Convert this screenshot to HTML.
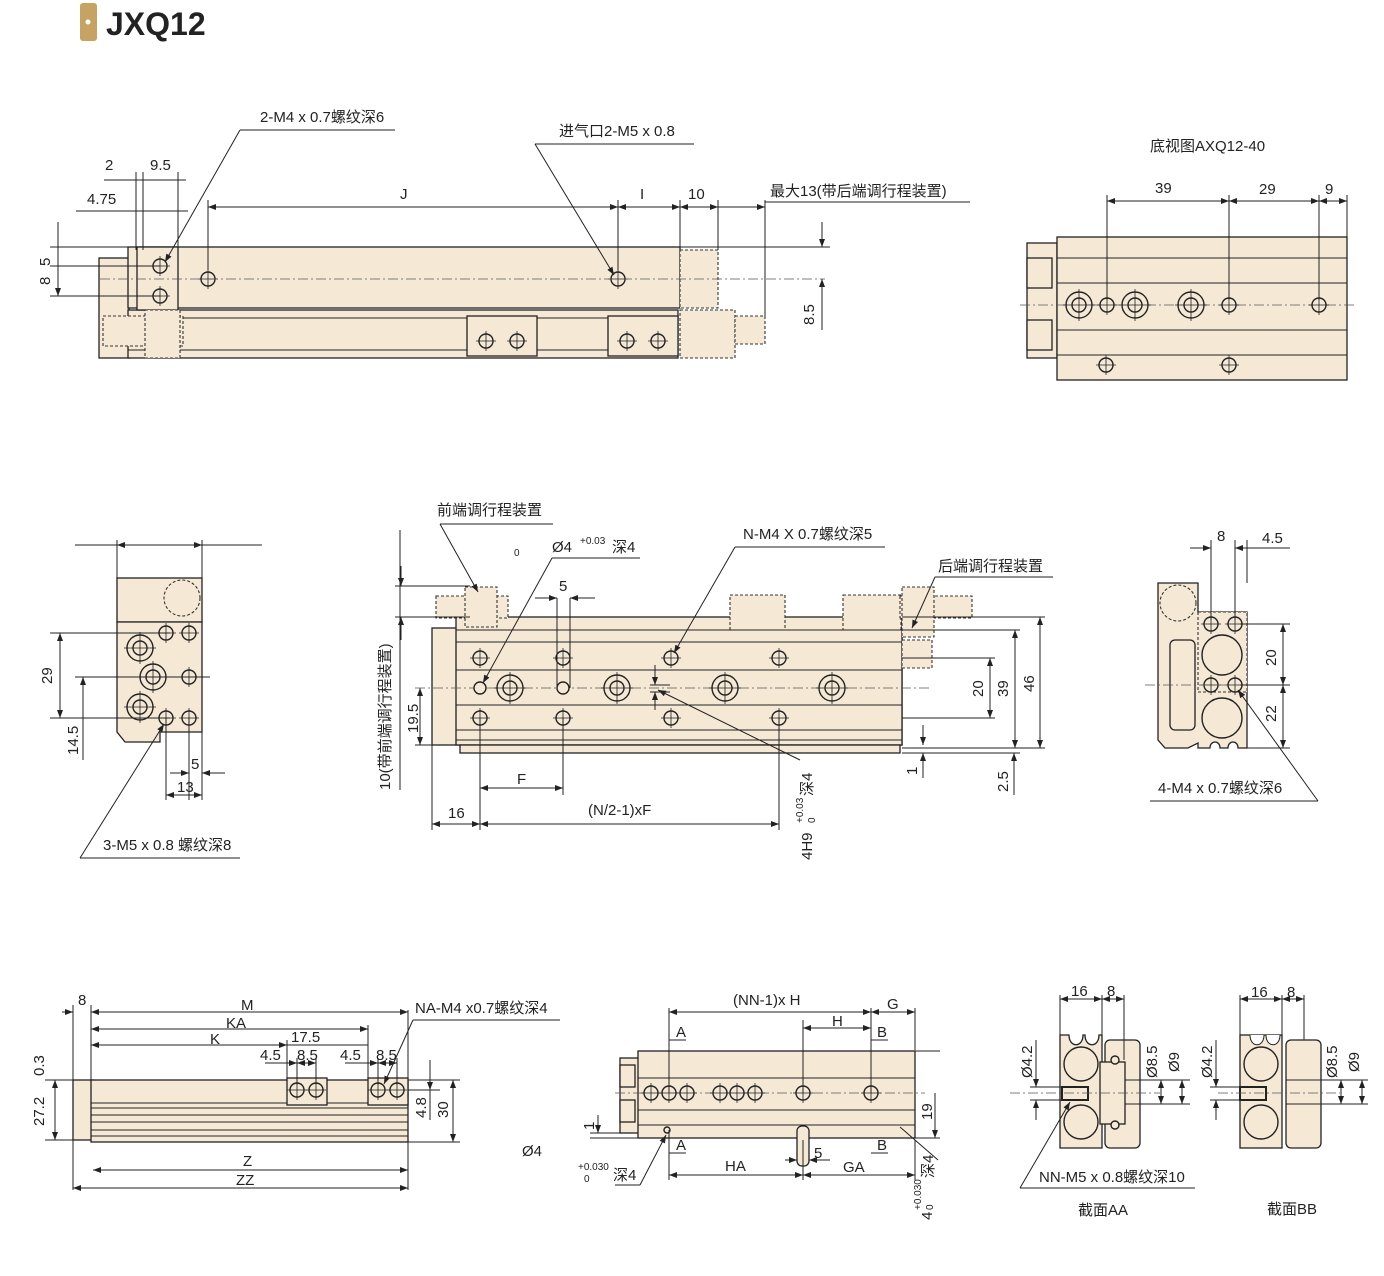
<!DOCTYPE html>
<html><head><meta charset="utf-8"><style>
html,body{margin:0;padding:0;background:#fff;width:1384px;height:1276px;overflow:hidden}
svg{display:block}
text{font-family:"Liberation Sans","Noto Sans CJK SC",sans-serif;font-size:15px;fill:#222}
.b{fill:#f5e9d6;stroke:#222;stroke-width:1.3}
.d{fill:#f5e9d6;stroke:#333;stroke-width:1.1;stroke-dasharray:3 2}
.l{stroke:#222;stroke-width:1;fill:none}
.c{stroke:#555;stroke-width:.8;fill:none;stroke-dasharray:10 3 2 3}
.h{fill:#f5e9d6;stroke:#222;stroke-width:1.4}
</style></head><body>
<svg width="1384" height="1276" viewBox="0 0 1384 1276" xmlns="http://www.w3.org/2000/svg">
<defs>
<marker id="a" markerWidth="8" markerHeight="6" refX="8" refY="3" orient="auto-start-reverse" markerUnits="userSpaceOnUse"><path d="M0,0 L8,3 L0,6z" fill="#222"/></marker>
<g id="hole"><circle r="7" class="h"/><path d="M-10,0H10M0,-10V10" stroke="#222" stroke-width=".8"/></g>
<g id="big"><circle r="13" class="h"/><circle r="7" class="h"/><path d="M-16,0H16M0,-16V16" stroke="#222" stroke-width=".8"/></g>
</defs>

<!-- title -->
<rect x="80" y="3" width="17" height="38" rx="3" fill="#c6a363"/>
<circle cx="88" cy="22" r="2.5" fill="#fff"/>
<text x="106" y="35" style="font-size:32px;font-weight:bold;fill:#222">JXQ12</text>

<!-- ===== TOP SIDE VIEW ===== -->
<rect x="99" y="258" width="30" height="100" class="b"/>
<rect x="128" y="247" width="552" height="61" class="b"/>
<rect x="128" y="310" width="550" height="48" class="b"/>
<line x1="128" y1="318" x2="678" y2="318" class="l"/>
<line x1="128" y1="350" x2="678" y2="350" class="l"/>
<rect x="137" y="247" width="41" height="63" class="b"/>
<rect x="103" y="316" width="80" height="30" class="d"/>
<rect x="145" y="310" width="35" height="48" class="d"/>
<rect x="680" y="250" width="38" height="58" class="d"/>
<rect x="680" y="310" width="55" height="48" class="d"/>
<rect x="735" y="316" width="30" height="28" class="d"/>
<rect x="467" y="316" width="70" height="40" class="b"/>
<rect x="608" y="316" width="70" height="40" class="b"/>
<use href="#hole" x="486" y="341"/><use href="#hole" x="517" y="341"/>
<use href="#hole" x="627" y="341"/><use href="#hole" x="658" y="341"/>
<use href="#hole" x="160" y="266"/><use href="#hole" x="160" y="296"/>
<use href="#hole" x="208" y="279"/><use href="#hole" x="618" y="279"/>
<line x1="100" y1="279" x2="825" y2="279" class="c"/>
<g class="l">
<line x1="76" y1="211" x2="188" y2="211"/>
<line x1="104" y1="180" x2="186" y2="180"/>
<line x1="136" y1="172" x2="136" y2="250"/><line x1="143" y1="172" x2="143" y2="250"/><line x1="178" y1="172" x2="178" y2="250"/>
<line x1="208" y1="200" x2="208" y2="270" /><line x1="618" y1="200" x2="618" y2="270"/>
<line x1="680" y1="200" x2="680" y2="250"/><line x1="718" y1="200" x2="718" y2="250"/><line x1="765" y1="200" x2="765" y2="316"/>
<line x1="208" y1="207" x2="618" y2="207" marker-start="url(#a)" marker-end="url(#a)"/>
<line x1="618" y1="207" x2="680" y2="207" marker-start="url(#a)" marker-end="url(#a)"/>
<line x1="680" y1="207" x2="718" y2="207" marker-start="url(#a)" marker-end="url(#a)"/>
<line x1="718" y1="207" x2="765" y2="207" marker-end="url(#a)"/>
<line x1="765" y1="202" x2="970" y2="202"/>
<line x1="50" y1="247" x2="128" y2="247"/><line x1="50" y1="266" x2="160" y2="266"/><line x1="50" y1="296" x2="160" y2="296"/>
<line x1="58" y1="222" x2="58" y2="296" marker-end="url(#a)"/>
<line x1="680" y1="247" x2="830" y2="247"/>
<line x1="822" y1="222" x2="822" y2="247" marker-end="url(#a)"/>
<line x1="822" y1="279" x2="822" y2="330" marker-start="url(#a)"/>
<line x1="240" y1="130" x2="395" y2="130"/><line x1="240" y1="130" x2="165" y2="262" marker-end="url(#a)"/>
<line x1="535" y1="144" x2="694" y2="144"/><line x1="535" y1="144" x2="614" y2="275" marker-end="url(#a)"/>
</g>
<text x="260" y="122">2-M4 x 0.7螺纹深6</text>
<text x="559" y="136">进气口2-M5 x 0.8</text>
<text x="105" y="170">2</text><text x="150" y="170">9.5</text><text x="87" y="204">4.75</text>
<text x="400" y="199">J</text><text x="640" y="199">I</text><text x="688" y="199">10</text>
<text x="770" y="196">最大13(带后端调行程装置)</text>
<text transform="translate(50,285) rotate(-90)">8</text><text transform="translate(50,266) rotate(-90)">5</text>
<text transform="translate(814,325) rotate(-90)">8.5</text>

<!-- ===== BOTTOM VIEW ===== -->
<text x="1150" y="151">底视图AXQ12-40</text>
<rect x="1027" y="243" width="30" height="115" class="b"/>
<rect x="1057" y="237" width="290" height="143" class="b"/>
<rect x="1027" y="258" width="25" height="30" class="b"/><rect x="1027" y="320" width="25" height="30" class="b"/>
<line x1="1057" y1="258" x2="1347" y2="258" class="l"/><line x1="1057" y1="355" x2="1347" y2="355" class="l"/>
<line x1="1057" y1="283" x2="1347" y2="283" class="l"/><line x1="1057" y1="330" x2="1347" y2="330" class="l"/>
<line x1="1020" y1="305" x2="1355" y2="305" class="c"/>
<use href="#big" x="1079" y="305"/><use href="#hole" x="1107" y="305"/><use href="#big" x="1135" y="305"/>
<use href="#big" x="1191" y="305"/><use href="#hole" x="1229" y="305"/><use href="#hole" x="1319" y="305"/>
<use href="#hole" x="1106" y="365"/><use href="#hole" x="1229" y="365"/>
<g class="l">
<line x1="1107" y1="195" x2="1107" y2="300"/><line x1="1229" y1="195" x2="1229" y2="300"/><line x1="1319" y1="195" x2="1319" y2="300"/><line x1="1347" y1="195" x2="1347" y2="240"/>
<line x1="1107" y1="201" x2="1229" y2="201" marker-start="url(#a)" marker-end="url(#a)"/>
<line x1="1229" y1="201" x2="1319" y2="201" marker-start="url(#a)" marker-end="url(#a)"/>
<line x1="1319" y1="201" x2="1347" y2="201" marker-start="url(#a)" marker-end="url(#a)"/>
</g>
<text x="1155" y="193">39</text><text x="1259" y="194">29</text><text x="1325" y="194">9</text>

<!-- ===== LEFT END VIEW ===== -->
<rect x="117" y="578" width="85" height="44" class="b"/>
<path d="M117,622 H202 V732 H160 V742 H125 L117,732Z" class="b"/>
<circle cx="182" cy="598" r="18" class="d"/>
<use href="#big" x="140" y="648"/><use href="#big" x="140" y="707"/><use href="#big" x="153" y="677"/>
<use href="#hole" x="166" y="633"/><use href="#hole" x="189" y="633"/><use href="#hole" x="189" y="677"/>
<use href="#hole" x="166" y="718"/><use href="#hole" x="189" y="718"/>
<g class="l">
<line x1="75" y1="545" x2="262" y2="545"/>
<line x1="117" y1="545" x2="202" y2="545" marker-start="url(#a)" marker-end="url(#a)"/>
<line x1="117" y1="540" x2="117" y2="578"/><line x1="202" y1="540" x2="202" y2="578"/>
<line x1="50" y1="633" x2="170" y2="633"/><line x1="50" y1="718" x2="170" y2="718"/><line x1="75" y1="677" x2="210" y2="677"/>
<line x1="60" y1="633" x2="60" y2="718" marker-start="url(#a)" marker-end="url(#a)"/>
<line x1="83" y1="677" x2="83" y2="760" marker-start="url(#a)"/>
<line x1="166" y1="718" x2="166" y2="800"/><line x1="189" y1="718" x2="189" y2="800"/><line x1="202" y1="718" x2="202" y2="800"/>
<line x1="166" y1="795" x2="202" y2="795" marker-start="url(#a)" marker-end="url(#a)"/>
<line x1="170" y1="773" x2="189" y2="773" marker-end="url(#a)"/><line x1="202" y1="773" x2="225" y2="773" marker-start="url(#a)"/>
<line x1="80" y1="858" x2="240" y2="858"/><line x1="80" y1="858" x2="164" y2="724" marker-end="url(#a)"/>
</g>
<text transform="translate(52,684) rotate(-90)">29</text><text transform="translate(78,755) rotate(-90)">14.5</text>
<text x="191" y="769">5</text><text x="177" y="792">13</text>
<text x="103" y="850">3-M5 x 0.8 螺纹深8</text>

<!-- ===== MAIN TOP VIEW ===== -->
<rect x="432" y="628" width="470" height="117" class="b"/>
<rect x="456" y="617" width="446" height="128" class="b"/>
<rect x="730" y="595" width="55" height="35" class="d"/><rect x="843" y="595" width="58" height="35" class="d"/>
<rect x="436" y="596" width="72" height="22" class="d"/><rect x="465" y="587" width="32" height="40" class="d"/>
<rect x="900" y="596" width="72" height="22" class="d"/><rect x="902" y="587" width="32" height="50" class="d"/>
<rect x="902" y="640" width="30" height="28" class="d"/>
<rect x="460" y="745" width="440" height="8" class="b"/>
<g class="l">
<line x1="456" y1="630" x2="902" y2="630"/><line x1="456" y1="642" x2="902" y2="642"/>
<line x1="456" y1="670" x2="902" y2="670"/><line x1="456" y1="705" x2="902" y2="705"/>
<line x1="456" y1="730" x2="902" y2="730"/><line x1="456" y1="740" x2="902" y2="740"/>
</g>
<line x1="415" y1="688" x2="930" y2="688" class="c"/>
<use href="#hole" x="480" y="658"/><use href="#hole" x="563" y="658"/><use href="#hole" x="671" y="658"/><use href="#hole" x="779" y="658"/>
<use href="#hole" x="480" y="718"/><use href="#hole" x="563" y="718"/><use href="#hole" x="671" y="718"/><use href="#hole" x="779" y="718"/>
<circle cx="480" cy="688" r="6" class="h"/><circle cx="563" cy="688" r="6" class="h"/>
<use href="#big" x="510" y="688"/><use href="#big" x="617" y="688"/><use href="#big" x="725" y="688"/><use href="#big" x="832" y="688"/>
<g class="l">
<line x1="395" y1="586" x2="470" y2="586"/><line x1="395" y1="617" x2="470" y2="617"/>
<line x1="401" y1="566" x2="401" y2="586" marker-end="url(#a)"/><line x1="401" y1="617" x2="401" y2="640" marker-start="url(#a)"/>
<line x1="400" y1="530" x2="400" y2="790"/>
<line x1="420" y1="688" x2="420" y2="745" marker-start="url(#a)" marker-end="url(#a)"/>
<line x1="415" y1="745" x2="460" y2="745"/>
<line x1="557" y1="598" x2="557" y2="688"/><line x1="570" y1="598" x2="570" y2="688"/>
<line x1="535" y1="598" x2="557" y2="598" marker-end="url(#a)"/><line x1="570" y1="598" x2="595" y2="598" marker-start="url(#a)"/>
<line x1="480" y1="718" x2="480" y2="830"/><line x1="563" y1="718" x2="563" y2="795"/><line x1="779" y1="718" x2="779" y2="830"/><line x1="432" y1="745" x2="432" y2="830"/>
<line x1="480" y1="788" x2="563" y2="788" marker-start="url(#a)" marker-end="url(#a)"/>
<line x1="432" y1="824" x2="480" y2="824" marker-start="url(#a)" marker-end="url(#a)"/>
<line x1="480" y1="824" x2="779" y2="824" marker-start="url(#a)" marker-end="url(#a)"/>
<line x1="655" y1="665" x2="655" y2="685" marker-end="url(#a)"/><line x1="655" y1="710" x2="655" y2="692" marker-end="url(#a)"/>
<line x1="650" y1="685" x2="670" y2="685"/><line x1="650" y1="692" x2="670" y2="692"/>
<line x1="800" y1="760" x2="658" y2="690" marker-end="url(#a)"/>
<line x1="440" y1="524" x2="553" y2="524"/><line x1="440" y1="524" x2="478" y2="592" marker-end="url(#a)"/>
<line x1="552" y1="558" x2="640" y2="558"/><line x1="552" y1="558" x2="483" y2="683" marker-end="url(#a)"/>
<line x1="735" y1="547" x2="885" y2="547"/><line x1="735" y1="547" x2="674" y2="653" marker-end="url(#a)"/>
<line x1="935" y1="577" x2="1053" y2="577"/><line x1="935" y1="577" x2="912" y2="628" marker-end="url(#a)"/>
<line x1="902" y1="617" x2="1045" y2="617"/><line x1="902" y1="630" x2="1020" y2="630"/><line x1="902" y1="658" x2="995" y2="658"/><line x1="902" y1="718" x2="995" y2="718"/>
<line x1="902" y1="748" x2="1045" y2="748"/><line x1="902" y1="753" x2="1020" y2="753"/>
<line x1="990" y1="658" x2="990" y2="718" marker-start="url(#a)" marker-end="url(#a)"/>
<line x1="1015" y1="630" x2="1015" y2="748" marker-start="url(#a)" marker-end="url(#a)"/>
<line x1="1040" y1="617" x2="1040" y2="748" marker-start="url(#a)" marker-end="url(#a)"/>
<line x1="923" y1="725" x2="923" y2="745" marker-end="url(#a)"/><line x1="923" y1="753" x2="923" y2="778" marker-start="url(#a)"/>
<line x1="1014" y1="753" x2="1014" y2="795" marker-start="url(#a)"/>
</g>
<text x="437" y="515">前端调行程装置</text>
<text x="514" y="556" style="font-size:10px">0</text>
<text x="552" y="552">Ø4</text><text x="580" y="544" style="font-size:10px">+0.03</text><text x="612" y="552">深4</text>
<text x="743" y="539">N-M4 X 0.7螺纹深5</text>
<text x="938" y="571">后端调行程装置</text>
<text x="559" y="591">5</text>
<text transform="translate(390,790) rotate(-90)">10(带前端调行程装置)</text>
<text transform="translate(418,733) rotate(-90)">19.5</text>
<text x="517" y="784">F</text><text x="448" y="818">16</text><text x="588" y="815">(N/2-1)xF</text>
<text transform="translate(812,860) rotate(-90)">4H9</text>
<text transform="translate(803,823) rotate(-90)" style="font-size:10px">+0.03</text>
<text transform="translate(815,823) rotate(-90)" style="font-size:10px">0</text>
<text transform="translate(812,796) rotate(-90)">深4</text>
<text transform="translate(983,697) rotate(-90)">20</text><text transform="translate(1008,697) rotate(-90)">39</text><text transform="translate(1034,692) rotate(-90)">46</text>
<text transform="translate(917,775) rotate(-90)">1</text><text transform="translate(1008,792) rotate(-90)">2.5</text>

<!-- ===== RIGHT END VIEW ===== -->
<path d="M1158,583 H1198 V612 H1247 V748 H1238 C1238,740 1228,740 1228,748 H1220 C1220,740 1210,740 1210,748 H1198 V743 L1188,748 H1165 L1158,740Z" class="b"/>
<rect x="1170" y="640" width="25" height="90" rx="5" class="b"/>
<circle cx="1178" cy="603" r="18" class="d"/>
<rect x="1198" y="612" width="49" height="80" class="d"/>
<circle cx="1222" cy="655" r="20" class="h"/><circle cx="1222" cy="718" r="20" class="h"/>
<use href="#hole" x="1211" y="624"/><use href="#hole" x="1235" y="624"/><use href="#hole" x="1211" y="685"/><use href="#hole" x="1235" y="685"/>
<line x1="1145" y1="685" x2="1265" y2="685" class="c"/>
<g class="l">
<line x1="1211" y1="540" x2="1211" y2="620"/><line x1="1235" y1="540" x2="1235" y2="620"/><line x1="1247" y1="540" x2="1247" y2="583"/>
<line x1="1190" y1="548" x2="1211" y2="548" marker-end="url(#a)"/><line x1="1235" y1="548" x2="1290" y2="548"/>
<line x1="1235" y1="548" x2="1247" y2="548" marker-start="url(#a)"/>
<line x1="1240" y1="624" x2="1290" y2="624"/><line x1="1240" y1="685" x2="1290" y2="685"/><line x1="1247" y1="748" x2="1290" y2="748"/>
<line x1="1283" y1="624" x2="1283" y2="685" marker-start="url(#a)" marker-end="url(#a)"/>
<line x1="1283" y1="685" x2="1283" y2="748" marker-start="url(#a)" marker-end="url(#a)"/>
<line x1="1150" y1="801" x2="1318" y2="801"/><line x1="1318" y1="801" x2="1238" y2="690" marker-end="url(#a)"/>
</g>
<text x="1217" y="541">8</text><text x="1262" y="543">4.5</text>
<text transform="translate(1276,666) rotate(-90)">20</text><text transform="translate(1276,722) rotate(-90)">22</text>
<text x="1158" y="793">4-M4 x 0.7螺纹深6</text>

<!-- ===== BOTTOM LEFT VIEW ===== -->
<rect x="73" y="1080" width="20" height="60" class="b"/>
<rect x="91" y="1080" width="317" height="62" class="b"/>
<g class="l">
<line x1="91" y1="1103" x2="408" y2="1103"/><line x1="91" y1="1108" x2="408" y2="1108"/><line x1="91" y1="1115" x2="408" y2="1115"/>
<line x1="91" y1="1122" x2="408" y2="1122"/><line x1="91" y1="1130" x2="408" y2="1130"/><line x1="91" y1="1136" x2="408" y2="1136"/>
</g>
<rect x="287" y="1078" width="40" height="27" class="b"/><rect x="368" y="1078" width="40" height="27" class="b"/>
<use href="#hole" x="297" y="1090"/><use href="#hole" x="316" y="1090"/><use href="#hole" x="378" y="1090"/><use href="#hole" x="397" y="1090"/>
<g class="l">
<line x1="73" y1="1005" x2="73" y2="1190"/><line x1="91" y1="1005" x2="91" y2="1080"/><line x1="408" y1="1010" x2="408" y2="1190"/>
<line x1="62" y1="1012" x2="73" y2="1012" marker-end="url(#a)"/><line x1="91" y1="1012" x2="408" y2="1012" marker-start="url(#a)" marker-end="url(#a)"/>
<line x1="91" y1="1029" x2="368" y2="1029" marker-start="url(#a)" marker-end="url(#a)"/>
<line x1="91" y1="1045" x2="287" y2="1045" marker-start="url(#a)" marker-end="url(#a)"/>
<line x1="287" y1="1045" x2="368" y2="1045"/>
<line x1="287" y1="1040" x2="287" y2="1080"/><line x1="297" y1="1058" x2="297" y2="1085"/><line x1="316" y1="1058" x2="316" y2="1085"/>
<line x1="368" y1="1025" x2="368" y2="1080"/><line x1="378" y1="1058" x2="378" y2="1085"/><line x1="397" y1="1058" x2="397" y2="1085"/>
<line x1="265" y1="1063" x2="297" y2="1063" marker-end="url(#a)"/><line x1="297" y1="1063" x2="316" y2="1063" marker-start="url(#a)" marker-end="url(#a)"/>
<line x1="345" y1="1063" x2="378" y2="1063" marker-end="url(#a)"/><line x1="378" y1="1063" x2="397" y2="1063" marker-start="url(#a)" marker-end="url(#a)"/>
<line x1="93" y1="1170" x2="408" y2="1170" marker-start="url(#a)" marker-end="url(#a)"/>
<line x1="73" y1="1188" x2="408" y2="1188" marker-start="url(#a)" marker-end="url(#a)"/>
<line x1="45" y1="1080" x2="91" y2="1080"/><line x1="45" y1="1140" x2="91" y2="1140"/>
<line x1="55" y1="1080" x2="55" y2="1140" marker-start="url(#a)" marker-end="url(#a)"/>
<line x1="408" y1="1080" x2="460" y2="1080"/><line x1="408" y1="1090" x2="440" y2="1090"/><line x1="408" y1="1142" x2="460" y2="1142"/>
<line x1="453" y1="1080" x2="453" y2="1142" marker-start="url(#a)" marker-end="url(#a)"/>
<line x1="430" y1="1060" x2="430" y2="1090" marker-end="url(#a)"/><line x1="430" y1="1080" x2="430" y2="1120"/>
<line x1="413" y1="1020" x2="560" y2="1020"/><line x1="413" y1="1020" x2="384" y2="1084" marker-end="url(#a)"/>
</g>
<text x="78" y="1005">8</text><text x="241" y="1010">M</text><text x="226" y="1028">KA</text><text x="210" y="1044">K</text>
<text x="291" y="1042">17.5</text><text x="260" y="1060">4.5</text><text x="297" y="1060">8.5</text><text x="340" y="1060">4.5</text><text x="376" y="1060">8.5</text>
<text x="243" y="1166">Z</text><text x="236" y="1185">ZZ</text>
<text transform="translate(44,1076) rotate(-90)">0.3</text><text transform="translate(44,1126) rotate(-90)">27.2</text>
<text transform="translate(426,1118) rotate(-90)">4.8</text><text transform="translate(448,1118) rotate(-90)">30</text>
<text x="415" y="1013">NA-M4 x0.7螺纹深4</text>

<!-- ===== BOTTOM MIDDLE VIEW ===== -->
<rect x="620" y="1058" width="20" height="75" class="b"/>
<rect x="638" y="1051" width="277" height="87" class="b"/>
<rect x="620" y="1065" width="15" height="22" class="b"/><rect x="620" y="1100" width="15" height="22" class="b"/>
<g class="l"><line x1="638" y1="1078" x2="915" y2="1078"/><line x1="638" y1="1110" x2="915" y2="1110"/><line x1="638" y1="1125" x2="915" y2="1125"/></g>
<line x1="615" y1="1093" x2="925" y2="1093" class="c"/>
<use href="#hole" x="651" y="1093"/><use href="#hole" x="669" y="1093"/><use href="#hole" x="687" y="1093"/>
<use href="#hole" x="720" y="1093"/><use href="#hole" x="737" y="1093"/><use href="#hole" x="755" y="1093"/>
<use href="#hole" x="803" y="1093"/><use href="#hole" x="871" y="1093"/>
<circle cx="667" cy="1130" r="3" class="h"/>
<rect x="797" y="1126" width="12" height="40" class="b" rx="5"/>
<g class="l">
<line x1="669" y1="1008" x2="669" y2="1093"/><line x1="803" y1="1020" x2="803" y2="1093"/><line x1="871" y1="1008" x2="871" y2="1093"/><line x1="915" y1="1008" x2="915" y2="1050"/>
<line x1="669" y1="1012" x2="871" y2="1012" marker-start="url(#a)" marker-end="url(#a)"/>
<line x1="871" y1="1012" x2="915" y2="1012" marker-start="url(#a)" marker-end="url(#a)"/>
<line x1="803" y1="1028" x2="871" y2="1028" marker-start="url(#a)" marker-end="url(#a)"/>
<line x1="669" y1="1040" x2="686" y2="1040"/><line x1="871" y1="1040" x2="888" y2="1040"/>
<line x1="669" y1="1153" x2="686" y2="1153"/><line x1="871" y1="1153" x2="888" y2="1153"/>
<line x1="669" y1="1130" x2="669" y2="1180"/><line x1="803" y1="1140" x2="803" y2="1180"/><line x1="915" y1="1140" x2="915" y2="1180"/>
<line x1="669" y1="1175" x2="803" y2="1175" marker-start="url(#a)" marker-end="url(#a)"/>
<line x1="803" y1="1175" x2="915" y2="1175" marker-start="url(#a)" marker-end="url(#a)"/>
<line x1="785" y1="1160" x2="797" y2="1160" marker-end="url(#a)"/><line x1="809" y1="1160" x2="830" y2="1160" marker-start="url(#a)"/>
<line x1="915" y1="1051" x2="940" y2="1051"/><line x1="915" y1="1138" x2="940" y2="1138"/>
<line x1="935" y1="1093" x2="935" y2="1138" marker-end="url(#a)"/>
<line x1="590" y1="1133" x2="620" y2="1133"/><line x1="590" y1="1138" x2="638" y2="1138"/>
<line x1="598" y1="1115" x2="598" y2="1133" marker-end="url(#a)"/>
<line x1="900" y1="1127" x2="938" y2="1160"/>
<line x1="615" y1="1185" x2="640" y2="1185"/><line x1="640" y1="1185" x2="666" y2="1135" marker-end="url(#a)"/>
</g>
<text x="733" y="1005">(NN-1)x H</text><text x="887" y="1009">G</text><text x="832" y="1026">H</text>
<text x="676" y="1037">A</text><text x="877" y="1037">B</text>
<text x="676" y="1150">A</text><text x="877" y="1150">B</text>
<text x="725" y="1171">HA</text><text x="843" y="1172">GA</text><text x="814" y="1158">5</text>
<text x="522" y="1156">Ø4</text>
<text x="578" y="1170" style="font-size:10px">+0.030</text><text x="584" y="1182" style="font-size:10px">0</text><text x="613" y="1180">深4</text>
<text transform="translate(932,1120) rotate(-90)">19</text><text transform="translate(594,1130) rotate(-90)">1</text>
<text transform="translate(932,1220) rotate(-90)">4</text>
<text transform="translate(921,1210) rotate(-90)" style="font-size:10px">+0.030</text>
<text transform="translate(933,1210) rotate(-90)" style="font-size:10px">0</text>
<text transform="translate(933,1178) rotate(-90)">深4</text>

<!-- ===== SECTIONS AA / BB ===== -->
<path d="M1060,1035 H1069 C1069,1048 1083,1048 1083,1035 H1085 C1085,1048 1099,1048 1099,1035 H1102 V1148 H1060Z" class="b"/>
<rect x="1105" y="1040" width="35" height="108" rx="5" class="b"/>
<circle cx="1081" cy="1064" r="17" class="h"/><circle cx="1081" cy="1122" r="17" class="h"/>
<rect x="1062" y="1087" width="26" height="13" fill="#f5e9d6" stroke="#222" stroke-width="2"/>
<rect x="1100" y="1062" width="25" height="62" class="b"/>
<circle cx="1115" cy="1060" r="4" class="h"/><circle cx="1115" cy="1125" r="4" class="h"/>
<rect x="1240" y="1035" width="42" height="113" class="b"/>
<path d="M1250,1035 C1250,1048 1264,1048 1264,1035 M1266,1035 C1266,1048 1280,1048 1280,1035" stroke="#222" fill="#fff"/>
<rect x="1286" y="1040" width="35" height="108" rx="5" class="b"/>
<circle cx="1261" cy="1064" r="17" class="h"/><circle cx="1261" cy="1122" r="17" class="h"/>
<rect x="1240" y="1087" width="26" height="13" fill="#f5e9d6" stroke="#222" stroke-width="2"/>
<line x1="1010" y1="1093" x2="1160" y2="1093" class="c"/><line x1="1218" y1="1093" x2="1340" y2="1093" class="c"/>
<g class="l">
<line x1="1060" y1="995" x2="1060" y2="1035"/><line x1="1102" y1="995" x2="1102" y2="1035"/><line x1="1124" y1="995" x2="1124" y2="1060"/>
<line x1="1060" y1="999" x2="1102" y2="999" marker-start="url(#a)" marker-end="url(#a)"/>
<line x1="1102" y1="999" x2="1124" y2="999" marker-start="url(#a)" marker-end="url(#a)"/>
<line x1="1240" y1="995" x2="1240" y2="1035"/><line x1="1282" y1="995" x2="1282" y2="1035"/><line x1="1304" y1="995" x2="1304" y2="1040"/>
<line x1="1240" y1="999" x2="1282" y2="999" marker-start="url(#a)" marker-end="url(#a)"/>
<line x1="1282" y1="999" x2="1304" y2="999" marker-start="url(#a)" marker-end="url(#a)"/>
<line x1="1030" y1="1087" x2="1062" y2="1087"/><line x1="1030" y1="1100" x2="1062" y2="1100"/>
<line x1="1036" y1="1040" x2="1036" y2="1087" marker-end="url(#a)"/><line x1="1036" y1="1100" x2="1036" y2="1120" marker-start="url(#a)"/>
<line x1="1125" y1="1080" x2="1190" y2="1080"/><line x1="1125" y1="1104" x2="1190" y2="1104"/>
<line x1="1161" y1="1080" x2="1161" y2="1104" marker-start="url(#a)" marker-end="url(#a)"/>
<line x1="1182" y1="1080" x2="1182" y2="1104" marker-start="url(#a)" marker-end="url(#a)"/>
<line x1="1210" y1="1087" x2="1240" y2="1087"/><line x1="1210" y1="1100" x2="1240" y2="1100"/>
<line x1="1216" y1="1040" x2="1216" y2="1087" marker-end="url(#a)"/><line x1="1216" y1="1100" x2="1216" y2="1120" marker-start="url(#a)"/>
<line x1="1286" y1="1080" x2="1368" y2="1080"/><line x1="1286" y1="1104" x2="1368" y2="1104"/>
<line x1="1341" y1="1080" x2="1341" y2="1104" marker-start="url(#a)" marker-end="url(#a)"/>
<line x1="1362" y1="1080" x2="1362" y2="1104" marker-start="url(#a)" marker-end="url(#a)"/>
<line x1="1020" y1="1188" x2="1195" y2="1188"/><line x1="1020" y1="1188" x2="1070" y2="1102" marker-end="url(#a)"/>
</g>
<text x="1071" y="996">16</text><text x="1107" y="996">8</text>
<text x="1251" y="997">16</text><text x="1287" y="997">8</text>
<text transform="translate(1032,1078) rotate(-90)">Ø4.2</text><text transform="translate(1157,1078) rotate(-90)">Ø8.5</text><text transform="translate(1179,1072) rotate(-90)">Ø9</text>
<text transform="translate(1212,1078) rotate(-90)">Ø4.2</text><text transform="translate(1337,1078) rotate(-90)">Ø8.5</text><text transform="translate(1359,1072) rotate(-90)">Ø9</text>
<text x="1039" y="1182">NN-M5 x 0.8螺纹深10</text>
<text x="1078" y="1215">截面AA</text><text x="1267" y="1214">截面BB</text>
</svg>
</body></html>
